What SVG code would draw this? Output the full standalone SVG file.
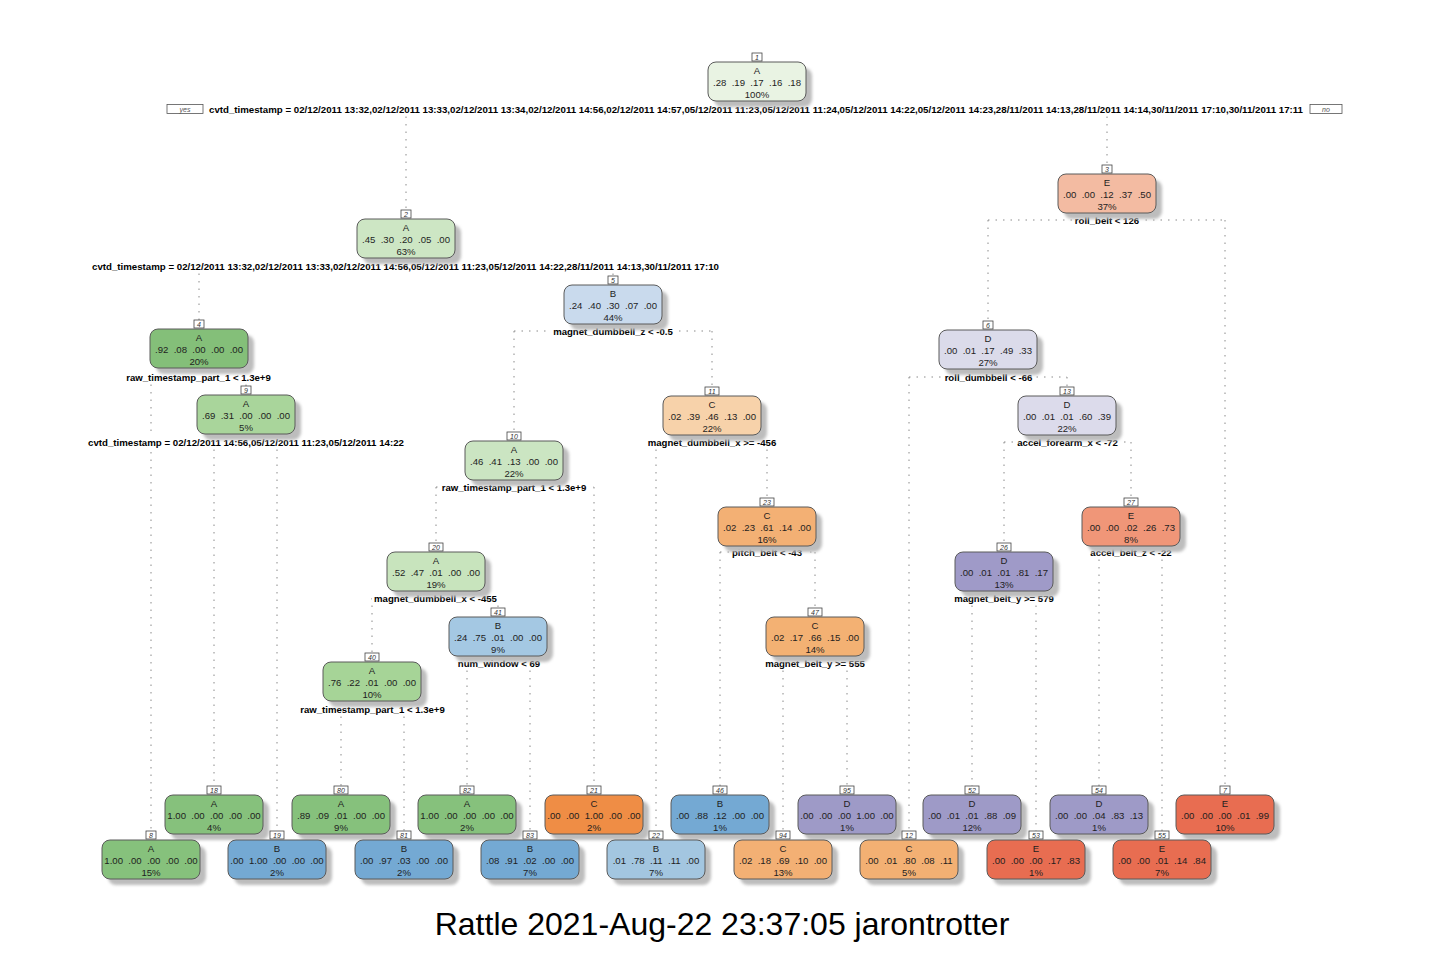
<svg xmlns="http://www.w3.org/2000/svg" width="1436" height="954" viewBox="0 0 1436 954">
  <defs>
    <filter id="soft" x="-10%" y="-20%" width="130%" height="150%">
      <feGaussianBlur stdDeviation="1.6"/>
    </filter>
  </defs>
  <style>
    .shadow { fill: #bdbdbd; filter: url(#soft); }
    .box { stroke: #5b5b5b; stroke-width: 1; }
    .nt { font-family: "Liberation Sans", Arial, sans-serif; font-size: 9.6px; fill: #1e1e1e; text-anchor: middle; white-space: pre; }
    .nb { fill: #ffffff; stroke: #444444; stroke-width: 0.8; }
    .nn { font-family: "Liberation Sans", Arial, sans-serif; font-size: 7px; font-style: italic; fill: #333333; text-anchor: middle; }
    .sbg { fill: #ffffff; }
    .st { font-family: "Liberation Sans", Arial, sans-serif; font-size: 9.6px; font-weight: bold; fill: #000000; text-anchor: middle; }
    .conn path { fill: none; stroke: #8a8a8a; stroke-width: 1; stroke-dasharray: 1.5 6; }
    .yn { fill: #ffffff; stroke: #555555; stroke-width: 0.8; }
    .ynt { font-family: "Liberation Sans", Arial, sans-serif; font-size: 7px; font-style: italic; fill: #555555; text-anchor: middle; }
    .caption { font-family: "Liberation Sans", Arial, sans-serif; font-size: 32px; fill: #000000; text-anchor: middle; }
  </style>

  <rect width="1436" height="954" fill="#ffffff"/>

  <!-- branches: horizontal run at the split label, then down to each child -->
  <g id="connectors" class="conn">
    <path d="M406,109 H1107 M406,109 V210 M1107,109 V165"/>
    <path d="M199,266 H613 M199,266 V320 M613,266 V276"/>
    <path d="M151,377 H246 M151,377 V831 M246,377 V386"/>
    <path d="M214,442 H277 M214,442 V786 M277,442 V831"/>
    <path d="M514,331 H712 M514,331 V432 M712,331 V387"/>
    <path d="M436,487 H594 M436,487 V543 M594,487 V786"/>
    <path d="M372,598 H498 M372,598 V653 M498,598 V608"/>
    <path d="M467,663 H530 M467,663 V786 M530,663 V831"/>
    <path d="M341,709 H404 M341,709 V786 M404,709 V831"/>
    <path d="M656,442 H767 M656,442 V831 M767,442 V498"/>
    <path d="M720,552 H815 M720,552 V786 M815,552 V608"/>
    <path d="M783,663 H847 M783,663 V831 M847,663 V786"/>
    <path d="M988,220 H1225 M988,220 V321 M1225,220 V786"/>
    <path d="M909,377 H1067 M909,377 V831 M1067,377 V387"/>
    <path d="M1004,442 H1131 M1004,442 V543 M1131,442 V498"/>
    <path d="M972,598 H1036 M972,598 V786 M1036,598 V831"/>
    <path d="M1099,552 H1162 M1099,552 V786 M1162,552 V831"/>
  </g>

  <!-- node 1 (root) -->
  <g id="node1">
    <rect class="yn" x="167" y="104.5" width="36" height="9"/>
    <text class="ynt" x="185" y="111.5">yes</text>
    <rect class="yn" x="1310" y="104.5" width="32" height="9"/>
    <text class="ynt" x="1326" y="111.5">no</text>
    <rect class="sbg" x="207" y="103" width="1098" height="12"/>
    <text class="st" x="756" y="112.5" textLength="1094" lengthAdjust="spacingAndGlyphs">cvtd_timestamp = 02/12/2011 13:32,02/12/2011 13:33,02/12/2011 13:34,02/12/2011 14:56,02/12/2011 14:57,05/12/2011 11:23,05/12/2011 11:24,05/12/2011 14:22,05/12/2011 14:23,28/11/2011 14:13,28/11/2011 14:14,30/11/2011 17:10,30/11/2011 17:11</text>
    <rect class="shadow" x="714" y="68" width="98" height="39" rx="8"/>
    <rect class="box" x="708" y="62" width="98" height="39" rx="8" fill="#e9f3e3"/>
    <text class="nt" x="757" y="74">A</text>
    <text class="nt" x="757" y="86">.28  .19  .17  .16  .18</text>
    <text class="nt" x="757" y="98">100%</text>
    <rect class="nb" x="752" y="53" width="10" height="8"/>
    <text class="nn" x="757" y="59.5">1</text>
  </g>

  <!-- node 2 -->
  <g id="node2">
    <rect class="sbg" x="90" y="260" width="631" height="12"/>
    <text class="st" x="405.5" y="269.5" textLength="627" lengthAdjust="spacingAndGlyphs">cvtd_timestamp = 02/12/2011 13:32,02/12/2011 13:33,02/12/2011 14:56,05/12/2011 11:23,05/12/2011 14:22,28/11/2011 14:13,30/11/2011 17:10</text>
    <rect class="shadow" x="363" y="225" width="98" height="39" rx="8"/>
    <rect class="box" x="357" y="219" width="98" height="39" rx="8" fill="#cde6c4"/>
    <text class="nt" x="406" y="231">A</text>
    <text class="nt" x="406" y="243">.45  .30  .20  .05  .00</text>
    <text class="nt" x="406" y="255">63%</text>
    <rect class="nb" x="401" y="210" width="10" height="8"/>
    <text class="nn" x="406" y="216.5">2</text>
  </g>

  <!-- node 3 -->
  <g id="node3">
    <rect class="sbg" x="1073" y="214" width="68" height="12"/>
    <text class="st" x="1107" y="223.5">roll_belt &lt; 126</text>
    <rect class="shadow" x="1064" y="180" width="98" height="39" rx="8"/>
    <rect class="box" x="1058" y="174" width="98" height="39" rx="8" fill="#f3bba2"/>
    <text class="nt" x="1107" y="186">E</text>
    <text class="nt" x="1107" y="198">.00  .00  .12  .37  .50</text>
    <text class="nt" x="1107" y="210">37%</text>
    <rect class="nb" x="1102" y="165" width="10" height="8"/>
    <text class="nn" x="1107" y="171.5">3</text>
  </g>

  <!-- node 4 -->
  <g id="node4">
    <rect class="sbg" x="124" y="371" width="149" height="12"/>
    <text class="st" x="198.5" y="380.5">raw_timestamp_part_1 &lt; 1.3e+9</text>
    <rect class="shadow" x="156" y="335" width="98" height="39" rx="8"/>
    <rect class="box" x="150" y="329" width="98" height="39" rx="8" fill="#84bf79"/>
    <text class="nt" x="199" y="341">A</text>
    <text class="nt" x="199" y="353">.92  .08  .00  .00  .00</text>
    <text class="nt" x="199" y="365">20%</text>
    <rect class="nb" x="194" y="320" width="10" height="8"/>
    <text class="nn" x="199" y="326.5">4</text>
  </g>

  <!-- node 5 -->
  <g id="node5">
    <rect class="sbg" x="551" y="325" width="124" height="12"/>
    <text class="st" x="613" y="334.5">magnet_dumbbell_z &lt; -0.5</text>
    <rect class="shadow" x="570" y="291" width="98" height="39" rx="8"/>
    <rect class="box" x="564" y="285" width="98" height="39" rx="8" fill="#c9daed"/>
    <text class="nt" x="613" y="297">B</text>
    <text class="nt" x="613" y="309">.24  .40  .30  .07  .00</text>
    <text class="nt" x="613" y="321">44%</text>
    <rect class="nb" x="608" y="276" width="10" height="8"/>
    <text class="nn" x="613" y="282.5">5</text>
  </g>

  <!-- node 6 -->
  <g id="node6">
    <rect class="sbg" x="943" y="371" width="91" height="12"/>
    <text class="st" x="988.5" y="380.5">roll_dumbbell &lt; -66</text>
    <rect class="shadow" x="945" y="336" width="98" height="39" rx="8"/>
    <rect class="box" x="939" y="330" width="98" height="39" rx="8" fill="#dbdbea"/>
    <text class="nt" x="988" y="342">D</text>
    <text class="nt" x="988" y="354">.00  .01  .17  .49  .33</text>
    <text class="nt" x="988" y="366">27%</text>
    <rect class="nb" x="983" y="321" width="10" height="8"/>
    <text class="nn" x="988" y="327.5">6</text>
  </g>

  <!-- node 9 -->
  <g id="node9">
    <rect class="sbg" x="86" y="436" width="320" height="12"/>
    <text class="st" x="246" y="445.5" textLength="316" lengthAdjust="spacingAndGlyphs">cvtd_timestamp = 02/12/2011 14:56,05/12/2011 11:23,05/12/2011 14:22</text>
    <rect class="shadow" x="203" y="401" width="98" height="39" rx="8"/>
    <rect class="box" x="197" y="395" width="98" height="39" rx="8" fill="#a9d59b"/>
    <text class="nt" x="246" y="407">A</text>
    <text class="nt" x="246" y="419">.69  .31  .00  .00  .00</text>
    <text class="nt" x="246" y="431">5%</text>
    <rect class="nb" x="241" y="386" width="10" height="8"/>
    <text class="nn" x="246" y="392.5">9</text>
  </g>

  <!-- node 10 -->
  <g id="node10">
    <rect class="sbg" x="440" y="481" width="149" height="12"/>
    <text class="st" x="514" y="490.5">raw_timestamp_part_1 &lt; 1.3e+9</text>
    <rect class="shadow" x="471" y="447" width="98" height="39" rx="8"/>
    <rect class="box" x="465" y="441" width="98" height="39" rx="8" fill="#cbe5c2"/>
    <text class="nt" x="514" y="453">A</text>
    <text class="nt" x="514" y="465">.46  .41  .13  .00  .00</text>
    <text class="nt" x="514" y="477">22%</text>
    <rect class="nb" x="507" y="432" width="14" height="8"/>
    <text class="nn" x="514" y="438.5">10</text>
  </g>

  <!-- node 11 -->
  <g id="node11">
    <rect class="sbg" x="646" y="436" width="132" height="12"/>
    <text class="st" x="712" y="445.5">magnet_dumbbell_x &gt;= -456</text>
    <rect class="shadow" x="669" y="402" width="98" height="39" rx="8"/>
    <rect class="box" x="663" y="396" width="98" height="39" rx="8" fill="#f7d2aa"/>
    <text class="nt" x="712" y="408">C</text>
    <text class="nt" x="712" y="420">.02  .39  .46  .13  .00</text>
    <text class="nt" x="712" y="432">22%</text>
    <rect class="nb" x="705" y="387" width="14" height="8"/>
    <text class="nn" x="712" y="393.5">11</text>
  </g>

  <!-- node 13 -->
  <g id="node13">
    <rect class="sbg" x="1016" y="436" width="103" height="12"/>
    <text class="st" x="1067.5" y="445.5">accel_forearm_x &lt; -72</text>
    <rect class="shadow" x="1024" y="402" width="98" height="39" rx="8"/>
    <rect class="box" x="1018" y="396" width="98" height="39" rx="8" fill="#dcdbeb"/>
    <text class="nt" x="1067" y="408">D</text>
    <text class="nt" x="1067" y="420">.00  .01  .01  .60  .39</text>
    <text class="nt" x="1067" y="432">22%</text>
    <rect class="nb" x="1060" y="387" width="14" height="8"/>
    <text class="nn" x="1067" y="393.5">13</text>
  </g>

  <!-- node 20 -->
  <g id="node20">
    <rect class="sbg" x="372" y="592" width="127" height="12"/>
    <text class="st" x="435.5" y="601.5">magnet_dumbbell_x &lt; -455</text>
    <rect class="shadow" x="393" y="558" width="98" height="39" rx="8"/>
    <rect class="box" x="387" y="552" width="98" height="39" rx="8" fill="#c8e4bd"/>
    <text class="nt" x="436" y="564">A</text>
    <text class="nt" x="436" y="576">.52  .47  .01  .00  .00</text>
    <text class="nt" x="436" y="588">19%</text>
    <rect class="nb" x="429" y="543" width="14" height="8"/>
    <text class="nn" x="436" y="549.5">20</text>
  </g>

  <!-- node 23 -->
  <g id="node23">
    <rect class="sbg" x="730" y="546" width="74" height="12"/>
    <text class="st" x="767" y="555.5">pitch_belt &lt; -43</text>
    <rect class="shadow" x="724" y="513" width="98" height="39" rx="8"/>
    <rect class="box" x="718" y="507" width="98" height="39" rx="8" fill="#f3b074"/>
    <text class="nt" x="767" y="519">C</text>
    <text class="nt" x="767" y="531">.02  .23  .61  .14  .00</text>
    <text class="nt" x="767" y="543">16%</text>
    <rect class="nb" x="760" y="498" width="14" height="8"/>
    <text class="nn" x="767" y="504.5">23</text>
  </g>

  <!-- node 26 -->
  <g id="node26">
    <rect class="sbg" x="953" y="592" width="102" height="12"/>
    <text class="st" x="1004" y="601.5">magnet_belt_y &gt;= 579</text>
    <rect class="shadow" x="961" y="558" width="98" height="39" rx="8"/>
    <rect class="box" x="955" y="552" width="98" height="39" rx="8" fill="#9f9ac8"/>
    <text class="nt" x="1004" y="564">D</text>
    <text class="nt" x="1004" y="576">.00  .01  .01  .81  .17</text>
    <text class="nt" x="1004" y="588">13%</text>
    <rect class="nb" x="997" y="543" width="14" height="8"/>
    <text class="nn" x="1004" y="549.5">26</text>
  </g>

  <!-- node 27 -->
  <g id="node27">
    <rect class="sbg" x="1088" y="546" width="86" height="12"/>
    <text class="st" x="1131" y="555.5">accel_belt_z &lt; -22</text>
    <rect class="shadow" x="1088" y="513" width="98" height="39" rx="8"/>
    <rect class="box" x="1082" y="507" width="98" height="39" rx="8" fill="#f09678"/>
    <text class="nt" x="1131" y="519">E</text>
    <text class="nt" x="1131" y="531">.00  .00  .02  .26  .73</text>
    <text class="nt" x="1131" y="543">8%</text>
    <rect class="nb" x="1124" y="498" width="14" height="8"/>
    <text class="nn" x="1131" y="504.5">27</text>
  </g>

  <!-- node 40 -->
  <g id="node40">
    <rect class="sbg" x="298" y="703" width="149" height="12"/>
    <text class="st" x="372.5" y="712.5">raw_timestamp_part_1 &lt; 1.3e+9</text>
    <rect class="shadow" x="329" y="668" width="98" height="39" rx="8"/>
    <rect class="box" x="323" y="662" width="98" height="39" rx="8" fill="#a6d497"/>
    <text class="nt" x="372" y="674">A</text>
    <text class="nt" x="372" y="686">.76  .22  .01  .00  .00</text>
    <text class="nt" x="372" y="698">10%</text>
    <rect class="nb" x="365" y="653" width="14" height="8"/>
    <text class="nn" x="372" y="659.5">40</text>
  </g>

  <!-- node 41 -->
  <g id="node41">
    <rect class="sbg" x="456" y="657" width="86" height="12"/>
    <text class="st" x="499" y="666.5">num_window &lt; 69</text>
    <rect class="shadow" x="455" y="623" width="98" height="39" rx="8"/>
    <rect class="box" x="449" y="617" width="98" height="39" rx="8" fill="#a4c8e3"/>
    <text class="nt" x="498" y="629">B</text>
    <text class="nt" x="498" y="641">.24  .75  .01  .00  .00</text>
    <text class="nt" x="498" y="653">9%</text>
    <rect class="nb" x="491" y="608" width="14" height="8"/>
    <text class="nn" x="498" y="614.5">41</text>
  </g>

  <!-- node 47 -->
  <g id="node47">
    <rect class="sbg" x="763" y="657" width="104" height="12"/>
    <text class="st" x="815" y="666.5">magnet_belt_y &gt;= 555</text>
    <rect class="shadow" x="772" y="623" width="98" height="39" rx="8"/>
    <rect class="box" x="766" y="617" width="98" height="39" rx="8" fill="#f3b173"/>
    <text class="nt" x="815" y="629">C</text>
    <text class="nt" x="815" y="641">.02  .17  .66  .15  .00</text>
    <text class="nt" x="815" y="653">14%</text>
    <rect class="nb" x="808" y="608" width="14" height="8"/>
    <text class="nn" x="815" y="614.5">47</text>
  </g>

  <!-- leaves, upper row -->
  <g id="node18">
    <rect class="shadow" x="171" y="801" width="98" height="39" rx="8"/>
    <rect class="box" x="165" y="795" width="98" height="39" rx="8" fill="#86c17c"/>
    <text class="nt" x="214" y="807">A</text>
    <text class="nt" x="214" y="819">1.00  .00  .00  .00  .00</text>
    <text class="nt" x="214" y="831">4%</text>
    <rect class="nb" x="207" y="786" width="14" height="8"/>
    <text class="nn" x="214" y="792.5">18</text>
  </g>
  <g id="node80">
    <rect class="shadow" x="298" y="801" width="98" height="39" rx="8"/>
    <rect class="box" x="292" y="795" width="98" height="39" rx="8" fill="#86c17c"/>
    <text class="nt" x="341" y="807">A</text>
    <text class="nt" x="341" y="819">.89  .09  .01  .00  .00</text>
    <text class="nt" x="341" y="831">9%</text>
    <rect class="nb" x="334" y="786" width="14" height="8"/>
    <text class="nn" x="341" y="792.5">80</text>
  </g>
  <g id="node82">
    <rect class="shadow" x="424" y="801" width="98" height="39" rx="8"/>
    <rect class="box" x="418" y="795" width="98" height="39" rx="8" fill="#86c17c"/>
    <text class="nt" x="467" y="807">A</text>
    <text class="nt" x="467" y="819">1.00  .00  .00  .00  .00</text>
    <text class="nt" x="467" y="831">2%</text>
    <rect class="nb" x="460" y="786" width="14" height="8"/>
    <text class="nn" x="467" y="792.5">82</text>
  </g>
  <g id="node21">
    <rect class="shadow" x="551" y="801" width="98" height="39" rx="8"/>
    <rect class="box" x="545" y="795" width="98" height="39" rx="8" fill="#ef8d45"/>
    <text class="nt" x="594" y="807">C</text>
    <text class="nt" x="594" y="819">.00  .00  1.00  .00  .00</text>
    <text class="nt" x="594" y="831">2%</text>
    <rect class="nb" x="587" y="786" width="14" height="8"/>
    <text class="nn" x="594" y="792.5">21</text>
  </g>
  <g id="node46">
    <rect class="shadow" x="677" y="801" width="98" height="39" rx="8"/>
    <rect class="box" x="671" y="795" width="98" height="39" rx="8" fill="#74a9d3"/>
    <text class="nt" x="720" y="807">B</text>
    <text class="nt" x="720" y="819">.00  .88  .12  .00  .00</text>
    <text class="nt" x="720" y="831">1%</text>
    <rect class="nb" x="713" y="786" width="14" height="8"/>
    <text class="nn" x="720" y="792.5">46</text>
  </g>
  <g id="node95">
    <rect class="shadow" x="804" y="801" width="98" height="39" rx="8"/>
    <rect class="box" x="798" y="795" width="98" height="39" rx="8" fill="#9e9ac7"/>
    <text class="nt" x="847" y="807">D</text>
    <text class="nt" x="847" y="819">.00  .00  .00  1.00  .00</text>
    <text class="nt" x="847" y="831">1%</text>
    <rect class="nb" x="840" y="786" width="14" height="8"/>
    <text class="nn" x="847" y="792.5">95</text>
  </g>
  <g id="node52">
    <rect class="shadow" x="929" y="801" width="98" height="39" rx="8"/>
    <rect class="box" x="923" y="795" width="98" height="39" rx="8" fill="#9e9ac7"/>
    <text class="nt" x="972" y="807">D</text>
    <text class="nt" x="972" y="819">.00  .01  .01  .88  .09</text>
    <text class="nt" x="972" y="831">12%</text>
    <rect class="nb" x="965" y="786" width="14" height="8"/>
    <text class="nn" x="972" y="792.5">52</text>
  </g>
  <g id="node54">
    <rect class="shadow" x="1056" y="801" width="98" height="39" rx="8"/>
    <rect class="box" x="1050" y="795" width="98" height="39" rx="8" fill="#9e9ac7"/>
    <text class="nt" x="1099" y="807">D</text>
    <text class="nt" x="1099" y="819">.00  .00  .04  .83  .13</text>
    <text class="nt" x="1099" y="831">1%</text>
    <rect class="nb" x="1092" y="786" width="14" height="8"/>
    <text class="nn" x="1099" y="792.5">54</text>
  </g>
  <g id="node7">
    <rect class="shadow" x="1182" y="801" width="98" height="39" rx="8"/>
    <rect class="box" x="1176" y="795" width="98" height="39" rx="8" fill="#e86d51"/>
    <text class="nt" x="1225" y="807">E</text>
    <text class="nt" x="1225" y="819">.00  .00  .00  .01  .99</text>
    <text class="nt" x="1225" y="831">10%</text>
    <rect class="nb" x="1220" y="786" width="10" height="8"/>
    <text class="nn" x="1225" y="792.5">7</text>
  </g>

  <!-- leaves, lower row -->
  <g id="node8">
    <rect class="shadow" x="108" y="846" width="98" height="39" rx="8"/>
    <rect class="box" x="102" y="840" width="98" height="39" rx="8" fill="#86c17c"/>
    <text class="nt" x="151" y="852">A</text>
    <text class="nt" x="151" y="864">1.00  .00  .00  .00  .00</text>
    <text class="nt" x="151" y="876">15%</text>
    <rect class="nb" x="146" y="831" width="10" height="8"/>
    <text class="nn" x="151" y="837.5">8</text>
  </g>
  <g id="node19">
    <rect class="shadow" x="234" y="846" width="98" height="39" rx="8"/>
    <rect class="box" x="228" y="840" width="98" height="39" rx="8" fill="#74a9d3"/>
    <text class="nt" x="277" y="852">B</text>
    <text class="nt" x="277" y="864">.00  1.00  .00  .00  .00</text>
    <text class="nt" x="277" y="876">2%</text>
    <rect class="nb" x="270" y="831" width="14" height="8"/>
    <text class="nn" x="277" y="837.5">19</text>
  </g>
  <g id="node81">
    <rect class="shadow" x="361" y="846" width="98" height="39" rx="8"/>
    <rect class="box" x="355" y="840" width="98" height="39" rx="8" fill="#74a9d3"/>
    <text class="nt" x="404" y="852">B</text>
    <text class="nt" x="404" y="864">.00  .97  .03  .00  .00</text>
    <text class="nt" x="404" y="876">2%</text>
    <rect class="nb" x="397" y="831" width="14" height="8"/>
    <text class="nn" x="404" y="837.5">81</text>
  </g>
  <g id="node83">
    <rect class="shadow" x="487" y="846" width="98" height="39" rx="8"/>
    <rect class="box" x="481" y="840" width="98" height="39" rx="8" fill="#74a9d3"/>
    <text class="nt" x="530" y="852">B</text>
    <text class="nt" x="530" y="864">.08  .91  .02  .00  .00</text>
    <text class="nt" x="530" y="876">7%</text>
    <rect class="nb" x="523" y="831" width="14" height="8"/>
    <text class="nn" x="530" y="837.5">83</text>
  </g>
  <g id="node22">
    <rect class="shadow" x="613" y="846" width="98" height="39" rx="8"/>
    <rect class="box" x="607" y="840" width="98" height="39" rx="8" fill="#a3c6e0"/>
    <text class="nt" x="656" y="852">B</text>
    <text class="nt" x="656" y="864">.01  .78  .11  .11  .00</text>
    <text class="nt" x="656" y="876">7%</text>
    <rect class="nb" x="649" y="831" width="14" height="8"/>
    <text class="nn" x="656" y="837.5">22</text>
  </g>
  <g id="node94">
    <rect class="shadow" x="740" y="846" width="98" height="39" rx="8"/>
    <rect class="box" x="734" y="840" width="98" height="39" rx="8" fill="#f3b074"/>
    <text class="nt" x="783" y="852">C</text>
    <text class="nt" x="783" y="864">.02  .18  .69  .10  .00</text>
    <text class="nt" x="783" y="876">13%</text>
    <rect class="nb" x="776" y="831" width="14" height="8"/>
    <text class="nn" x="783" y="837.5">94</text>
  </g>
  <g id="node12">
    <rect class="shadow" x="866" y="846" width="98" height="39" rx="8"/>
    <rect class="box" x="860" y="840" width="98" height="39" rx="8" fill="#f3b073"/>
    <text class="nt" x="909" y="852">C</text>
    <text class="nt" x="909" y="864">.00  .01  .80  .08  .11</text>
    <text class="nt" x="909" y="876">5%</text>
    <rect class="nb" x="902" y="831" width="14" height="8"/>
    <text class="nn" x="909" y="837.5">12</text>
  </g>
  <g id="node53">
    <rect class="shadow" x="993" y="846" width="98" height="39" rx="8"/>
    <rect class="box" x="987" y="840" width="98" height="39" rx="8" fill="#e86d51"/>
    <text class="nt" x="1036" y="852">E</text>
    <text class="nt" x="1036" y="864">.00  .00  .00  .17  .83</text>
    <text class="nt" x="1036" y="876">1%</text>
    <rect class="nb" x="1029" y="831" width="14" height="8"/>
    <text class="nn" x="1036" y="837.5">53</text>
  </g>
  <g id="node55">
    <rect class="shadow" x="1119" y="846" width="98" height="39" rx="8"/>
    <rect class="box" x="1113" y="840" width="98" height="39" rx="8" fill="#e86d51"/>
    <text class="nt" x="1162" y="852">E</text>
    <text class="nt" x="1162" y="864">.00  .00  .01  .14  .84</text>
    <text class="nt" x="1162" y="876">7%</text>
    <rect class="nb" x="1155" y="831" width="14" height="8"/>
    <text class="nn" x="1162" y="837.5">55</text>
  </g>

  <text class="caption" x="722" y="935">Rattle 2021-Aug-22 23:37:05 jarontrotter</text>
</svg>
